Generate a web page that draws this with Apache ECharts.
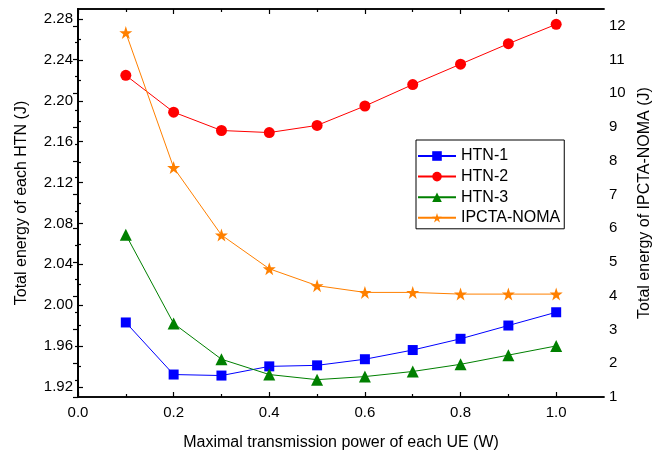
<!DOCTYPE html>
<html>
<head>
<meta charset="utf-8">
<script src="https://cdn.jsdelivr.net/npm/echarts@6/dist/echarts.min.js"></script>
<style>
html, body { margin: 0; padding: 0; background: #fff; }
#main { width: 664px; height: 456px; }
</style>
</head>
<body>
<div id="main"></div>
<script>
var power = [0.1, 0.2, 0.3, 0.4, 0.5, 0.6, 0.7, 0.8, 0.9, 1.0];
var htn1 = [1.983, 1.932, 1.931, 1.940, 1.941, 1.947, 1.956, 1.967, 1.980, 1.993];
var htn2 = [2.225, 2.189, 2.171, 2.169, 2.176, 2.195, 2.216, 2.236, 2.256, 2.275];
var htn3 = [2.069, 1.982, 1.947, 1.932, 1.927, 1.930, 1.935, 1.942, 1.951, 1.960];
var ipcta = [11.8, 7.8, 5.8, 4.8, 4.3, 4.1, 4.1, 4.05, 4.05, 4.05];

// tick positions
var xMajor = [0, 0.2, 0.4, 0.6, 0.8, 1.0];
var xMinor = [0.1, 0.3, 0.5, 0.7, 0.9];
var leftMajor = [1.92, 1.96, 2.00, 2.04, 2.08, 2.12, 2.16, 2.20, 2.24, 2.28];
var leftMinor = [1.94, 1.98, 2.02, 2.06, 2.10, 2.14, 2.18, 2.22, 2.26];
var rightMajor = [1, 2, 3, 4, 5, 6, 7, 8, 9, 10, 11, 12];
var rightMinor = [1.5, 2.5, 3.5, 4.5, 5.5, 6.5, 7.5, 8.5, 9.5, 10.5, 11.5];

var FONT = 'Liberation Sans, Arial, sans-serif';
var starPath = 'path://M50,0 L61.8,35.1 L98.1,35.1 L68.7,56.7 L79.4,90.9 L50,69.5 L20.6,90.9 L31.3,56.7 L1.9,35.1 L38.2,35.1 Z';

function pairs(ys) {
    var res = [];
    for (var i = 0; i < power.length; i++) {
        res.push([power[i], ys[i]]);
    }
    return res;
}

var lineBlack = { show: true, lineStyle: { color: '#000', width: 1.5 } };

// one axis only draws ticks of one length, so minor ticks get their own overlaid axis
function xAx(pos, ticks, len, withLabels) {
    return {
        type: 'value', position: pos, gridIndex: 0,
        min: 0, max: 1.1,
        axisLine: lineBlack,
        axisTick: { show: true, inside: true, length: len, customValues: ticks,
            lineStyle: { color: '#000', width: 1.2 } },
        axisLabel: withLabels ? {
            show: true, customValues: ticks, margin: 8,
            color: '#000', fontSize: 15, fontFamily: FONT,
            formatter: function (v) { return v.toFixed(1); }
        } : { show: false },
        splitLine: { show: false }
    };
}

function yAx(pos, min, max, ticks, len, withLabels, digits) {
    return {
        type: 'value', position: pos, gridIndex: 0,
        min: min, max: max,
        axisLine: lineBlack,
        axisTick: { show: true, inside: true, length: len, customValues: ticks,
            lineStyle: { color: '#000', width: 1.2 } },
        axisLabel: withLabels ? {
            show: true, customValues: ticks, margin: 5,
            color: '#000', fontSize: 15, fontFamily: FONT,
            formatter: function (v) { return v.toFixed(digits); }
        } : { show: false },
        splitLine: { show: false }
    };
}

var xBottom = xAx('bottom', xMajor, 5, true);
xBottom.name = 'Maximal transmission power of each UE (W)';
xBottom.nameLocation = 'middle';
xBottom.nameGap = 38;
xBottom.nameTextStyle = { color: '#000', fontSize: 16, fontFamily: FONT };

var yLeft = yAx('left', 1.91, 2.29, leftMajor, 5, true, 2);
yLeft.name = 'Total energy of each HTN (J)';
yLeft.nameLocation = 'middle';
yLeft.nameGap = 48;
yLeft.nameTextStyle = { color: '#000', fontSize: 16, fontFamily: FONT };

var yRight = yAx('right', 1, 12.5, rightMajor, 5, true, 0);
yRight.name = 'Total energy of IPCTA-NOMA (J)';
yRight.nameLocation = 'middle';
yRight.nameGap = 32;
yRight.nameTextStyle = { color: '#000', fontSize: 16, fontFamily: FONT };

var option = {
    animation: false,
    backgroundColor: '#fff',
    textStyle: { fontFamily: FONT },
    grid: { left: 78, right: 60, top: 9, bottom: 59, containLabel: false },
    legend: {
        orient: 'vertical',
        left: 416, top: 140,
        width: 150,
        padding: [8, 4, 3, 1],
        itemWidth: 38, itemHeight: 12, itemGap: 4.6,
        borderColor: '#000', borderWidth: 1,
        backgroundColor: '#fff',
        textStyle: { color: '#000', fontSize: 16, fontFamily: FONT, lineHeight: 16 },
        data: ['HTN-1', 'HTN-2', 'HTN-3', 'IPCTA-NOMA']
    },
    xAxis: [
        xBottom,
        xAx('bottom', xMinor, 3, false),
        xAx('top', xMajor, 5, false),
        xAx('top', xMinor, 3, false)
    ],
    yAxis: [
        yLeft,
        yRight,
        yAx('left', 1.91, 2.29, leftMinor, 3, false, 2),
        yAx('right', 1, 12.5, rightMinor, 3, false, 0)
    ],
    series: [
        {
            name: 'HTN-1', type: 'line', xAxisIndex: 0, yAxisIndex: 0,
            data: pairs(htn1), symbol: 'rect', symbolSize: 10,
            lineStyle: { color: '#0000ff', width: 1 },
            itemStyle: { color: '#0000ff' }
        },
        {
            name: 'HTN-2', type: 'line', xAxisIndex: 0, yAxisIndex: 0,
            data: pairs(htn2), symbol: 'circle', symbolSize: 11,
            lineStyle: { color: '#ff0000', width: 1 },
            itemStyle: { color: '#ff0000' }
        },
        {
            name: 'HTN-3', type: 'line', xAxisIndex: 0, yAxisIndex: 0,
            data: pairs(htn3), symbol: 'triangle', symbolSize: 12,
            lineStyle: { color: '#008000', width: 1 },
            itemStyle: { color: '#008000' }
        },
        {
            name: 'IPCTA-NOMA', type: 'line', xAxisIndex: 0, yAxisIndex: 1,
            data: pairs(ipcta), symbol: starPath, symbolSize: 13,
            lineStyle: { color: '#ff8000', width: 1 },
            itemStyle: { color: '#ff8000' }
        }
    ]
};

var chart = echarts.init(document.getElementById('main'), null, { renderer: 'canvas' });
chart.setOption(option);
</script>
</body>
</html>
